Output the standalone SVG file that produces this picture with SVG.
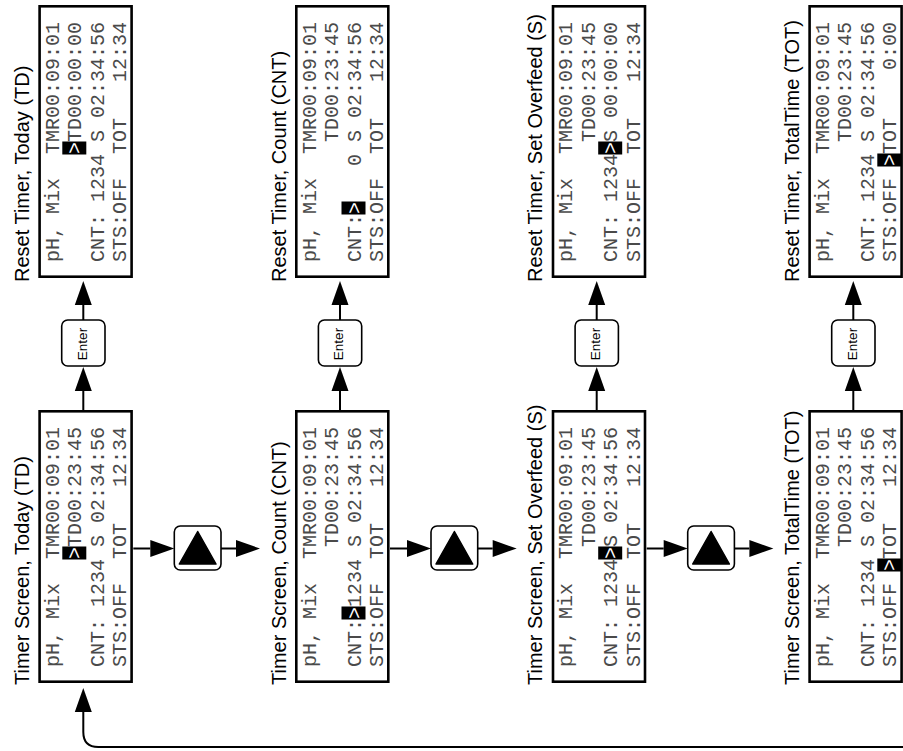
<svg xmlns="http://www.w3.org/2000/svg" width="903" height="751" viewBox="0 0 903 751">
<style>
.box{fill:#fff;stroke:#000;stroke-width:2.6}
.title{font-family:"Liberation Sans",Arial,sans-serif;font-size:20px;fill:#000}
.lcd{font-family:"Liberation Mono","Courier New",monospace;font-size:20px;fill:#4a4a4a}
.cur{fill:#000}
.curt{font-family:"Liberation Mono","Courier New",monospace;font-size:20px;fill:#fff}
.btn{fill:#fff;stroke:#000;stroke-width:1.6}
.btnt{font-family:"Liberation Sans",Arial,sans-serif;font-size:13.5px;fill:#000}
.tri{fill:#000;stroke:#000;stroke-width:1.5;stroke-linejoin:round}
.conn{fill:none;stroke:#000;stroke-width:2}
</style>
<defs>
<marker id="ah" markerUnits="userSpaceOnUse" markerWidth="24" markerHeight="17" viewBox="0 0 24 17" refX="0" refY="8.5" orient="auto" overflow="visible">
<path d="M0,0 L24,8.5 L0,17 z" fill="#000"/>
</marker>
</defs>

<!-- Column 1 -->
<g id="reset-td" transform="translate(38.3,278) rotate(-90)">
<rect class="box" x="1.3" y="1.3" width="270.4" height="92"/>
<text class="title" x="-4" y="-9.5">Reset Timer, Today (TD)</text>
<text class="lcd" x="16" y="20.5">pH, Mix</text><text class="lcd" x="124" y="20.5">TMR00:09:01</text>
<rect class="cur" x="123.5" y="24" width="13" height="24"/><text class="curt" x="124" y="43">&gt;</text>
<text class="lcd" x="136" y="43">TD00:00:00</text>
<text class="lcd" x="16" y="65.5">CNT: 1234 S 02:34:56</text>
<text class="lcd" x="16" y="88">STS:OFF</text><text class="lcd" x="124" y="88">TOT</text><text class="lcd" x="196" y="88">12:34</text>
</g>
<g id="timer-td" transform="translate(38.3,683) rotate(-90)">
<rect class="box" x="1.3" y="1.3" width="270.4" height="92"/>
<text class="title" x="-2" y="-9.5">Timer Screen, Today (TD)</text>
<text class="lcd" x="16" y="20.5">pH, Mix</text><text class="lcd" x="124" y="20.5">TMR00:09:01</text>
<rect class="cur" x="123.5" y="24" width="13" height="24"/><text class="curt" x="124" y="43">&gt;</text>
<text class="lcd" x="136" y="43">TD00:23:45</text>
<text class="lcd" x="16" y="65.5">CNT: 1234 S 02:34:56</text>
<text class="lcd" x="16" y="88">STS:OFF</text><text class="lcd" x="124" y="88">TOT</text><text class="lcd" x="196" y="88">12:34</text>
</g>

<!-- Column 2 -->
<g id="reset-cnt" transform="translate(295,278) rotate(-90)">
<rect class="box" x="1.3" y="1.3" width="270.4" height="92"/>
<text class="title" x="-4" y="-9.5">Reset Timer, Count (CNT)</text>
<text class="lcd" x="16" y="20.5">pH, Mix</text><text class="lcd" x="124" y="20.5">TMR00:09:01</text>
<text class="lcd" x="136" y="43">TD00:23:45</text>
<text class="lcd" x="16" y="65.5">CNT:</text>
<rect class="cur" x="63.5" y="46.5" width="13" height="24"/><text class="curt" x="64" y="65.5">&gt;</text>
<text class="lcd" x="112" y="65.5">0 S 02:34:56</text>
<text class="lcd" x="16" y="88">STS:OFF</text><text class="lcd" x="124" y="88">TOT</text><text class="lcd" x="196" y="88">12:34</text>
</g>
<g id="timer-cnt" transform="translate(295,683) rotate(-90)">
<rect class="box" x="1.3" y="1.3" width="270.4" height="92"/>
<text class="title" x="-2" y="-9.5">Timer Screen, Count (CNT)</text>
<text class="lcd" x="16" y="20.5">pH, Mix</text><text class="lcd" x="124" y="20.5">TMR00:09:01</text>
<text class="lcd" x="136" y="43">TD00:23:45</text>
<text class="lcd" x="16" y="65.5">CNT:</text>
<rect class="cur" x="63.5" y="46.5" width="13" height="24"/><text class="curt" x="64" y="65.5">&gt;</text>
<text class="lcd" x="76" y="65.5">1234 S 02:34:56</text>
<text class="lcd" x="16" y="88">STS:OFF</text><text class="lcd" x="124" y="88">TOT</text><text class="lcd" x="196" y="88">12:34</text>
</g>

<!-- Column 3 -->
<g id="reset-s" transform="translate(551.7,278) rotate(-90)">
<rect class="box" x="1.3" y="1.3" width="270.4" height="92"/>
<text class="title" x="-4" y="-9.5">Reset Timer, Set Overfeed (S)</text>
<text class="lcd" x="16" y="20.5">pH, Mix</text><text class="lcd" x="124" y="20.5">TMR00:09:01</text>
<text class="lcd" x="136" y="43">TD00:23:45</text>
<text class="lcd" x="16" y="65.5">CNT: 1234</text>
<rect class="cur" x="123.5" y="46.5" width="13" height="24"/><text class="curt" x="124" y="65.5">&gt;</text>
<text class="lcd" x="136" y="65.5">S 00:00:00</text>
<text class="lcd" x="16" y="88">STS:OFF</text><text class="lcd" x="124" y="88">TOT</text><text class="lcd" x="196" y="88">12:34</text>
</g>
<g id="timer-s" transform="translate(551.7,683) rotate(-90)">
<rect class="box" x="1.3" y="1.3" width="270.4" height="92"/>
<text class="title" x="-2" y="-9.5">Timer Screen, Set Overfeed (S)</text>
<text class="lcd" x="16" y="20.5">pH, Mix</text><text class="lcd" x="124" y="20.5">TMR00:09:01</text>
<text class="lcd" x="136" y="43">TD00:23:45</text>
<text class="lcd" x="16" y="65.5">CNT: 1234</text>
<rect class="cur" x="123.5" y="46.5" width="13" height="24"/><text class="curt" x="124" y="65.5">&gt;</text>
<text class="lcd" x="136" y="65.5">S 02:34:56</text>
<text class="lcd" x="16" y="88">STS:OFF</text><text class="lcd" x="124" y="88">TOT</text><text class="lcd" x="196" y="88">12:34</text>
</g>

<!-- Column 4 -->
<g id="reset-tot" transform="translate(808.3,278) rotate(-90)">
<rect class="box" x="1.3" y="1.3" width="270.4" height="92"/>
<text class="title" x="-4" y="-9.5">Reset Timer, TotalTime (TOT)</text>
<text class="lcd" x="16" y="20.5">pH, Mix</text><text class="lcd" x="124" y="20.5">TMR00:09:01</text>
<text class="lcd" x="136" y="43">TD00:23:45</text>
<text class="lcd" x="16" y="65.5">CNT: 1234 S 02:34:56</text>
<text class="lcd" x="16" y="88">STS:OFF</text>
<rect class="cur" x="111.5" y="69" width="13" height="24"/><text class="curt" x="112" y="88">&gt;</text>
<text class="lcd" x="124" y="88">TOT</text><text class="lcd" x="208" y="88">0:00</text>
</g>
<g id="timer-tot" transform="translate(808.3,683) rotate(-90)">
<rect class="box" x="1.3" y="1.3" width="270.4" height="92"/>
<text class="title" x="-2" y="-9.5">Timer Screen, TotalTime (TOT)</text>
<text class="lcd" x="16" y="20.5">pH, Mix</text><text class="lcd" x="124" y="20.5">TMR00:09:01</text>
<text class="lcd" x="136" y="43">TD00:23:45</text>
<text class="lcd" x="16" y="65.5">CNT: 1234 S 02:34:56</text>
<text class="lcd" x="16" y="88">STS:OFF</text>
<rect class="cur" x="111.5" y="69" width="13" height="24"/><text class="curt" x="112" y="88">&gt;</text>
<text class="lcd" x="124" y="88">TOT</text><text class="lcd" x="196" y="88">12:34</text>
</g>

<!-- Enter buttons -->
<g id="enter-1"><rect class="btn" x="61.7" y="320" width="43.3" height="46" rx="6"/><text class="btnt" text-anchor="middle" transform="translate(86.7,344) rotate(-90)">Enter</text></g>
<g id="enter-2"><rect class="btn" x="318.4" y="320" width="43.3" height="46" rx="6"/><text class="btnt" text-anchor="middle" transform="translate(343.4,344) rotate(-90)">Enter</text></g>
<g id="enter-3"><rect class="btn" x="575.1" y="320" width="43.3" height="46" rx="6"/><text class="btnt" text-anchor="middle" transform="translate(600.1,344) rotate(-90)">Enter</text></g>
<g id="enter-4"><rect class="btn" x="831.7" y="320" width="43.3" height="46" rx="6"/><text class="btnt" text-anchor="middle" transform="translate(856.7,344) rotate(-90)">Enter</text></g>

<!-- Up buttons -->
<g id="up-1"><rect class="btn" x="174.3" y="526" width="46.7" height="44" rx="6"/><path class="tri" d="M197.7,531.5 L216,564 L179.3,564 z"/></g>
<g id="up-2"><rect class="btn" x="431" y="526" width="46.7" height="44" rx="6"/><path class="tri" d="M454.4,531.5 L472.7,564 L436,564 z"/></g>
<g id="up-3"><rect class="btn" x="687.7" y="526" width="46.7" height="44" rx="6"/><path class="tri" d="M711.1,531.5 L729.4,564 L692.7,564 z"/></g>

<!-- Connectors -->
<g id="connectors">
<path class="conn" d="M83.3,410 V391" marker-end="url(#ah)"/>
<path class="conn" d="M83.3,320 V305" marker-end="url(#ah)"/>
<path class="conn" d="M340,410 V391" marker-end="url(#ah)"/>
<path class="conn" d="M340,320 V305" marker-end="url(#ah)"/>
<path class="conn" d="M596.7,410 V391" marker-end="url(#ah)"/>
<path class="conn" d="M596.7,320 V305" marker-end="url(#ah)"/>
<path class="conn" d="M853.3,410 V391" marker-end="url(#ah)"/>
<path class="conn" d="M853.3,320 V305" marker-end="url(#ah)"/>
<path class="conn" d="M133.3,548.5 H150.3" marker-end="url(#ah)"/>
<path class="conn" d="M221,548.5 H236" marker-end="url(#ah)"/>
<path class="conn" d="M390,548.5 H407" marker-end="url(#ah)"/>
<path class="conn" d="M477.7,548.5 H492.7" marker-end="url(#ah)"/>
<path class="conn" d="M646.7,548.5 H663.7" marker-end="url(#ah)"/>
<path class="conn" d="M734.4,548.5 H749.4" marker-end="url(#ah)"/>
<path class="conn" d="M905,747 H98.3 Q83.3,747 83.3,732 V712" marker-end="url(#ah)"/>
</g>
</svg>
